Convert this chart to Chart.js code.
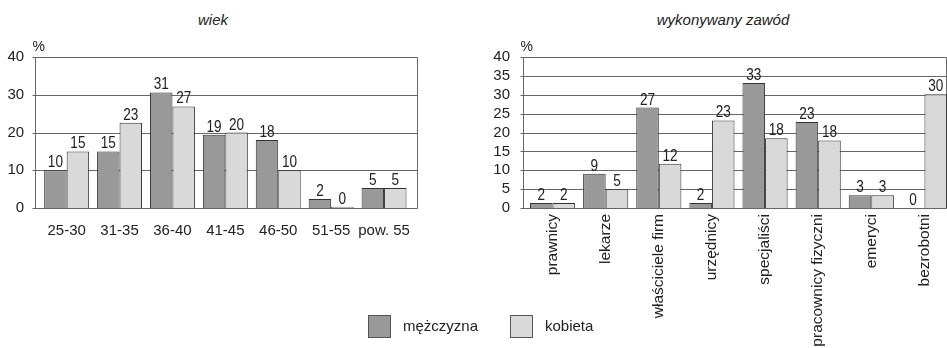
<!DOCTYPE html>
<html>
<head>
<meta charset="utf-8">
<script src="https://cdn.jsdelivr.net/npm/chart.js@4.4.0/dist/chart.umd.min.js"></script>
<style>
  body { margin: 0; background: #fff; width: 947px; height: 348px; overflow: hidden; position: relative;
         font-family: "Liberation Sans", Arial, sans-serif; color: #222; }
  .wrap { position: absolute; top: 0; height: 348px; }
  .title { position: absolute; top: 11px; font-style: italic; font-size: 15px; transform: translateX(-50%); white-space: nowrap; }
  .leg { position: absolute; top: 315px; width: 21px; height: 21px; border: 1px solid #555; }
  .legtxt { position: absolute; top: 317px; font-size: 15px; }
</style>
</head>
<body>
<div class="title" style="left:213px">wiek</div>
<div class="title" style="left:723px">wykonywany zawód</div>
<div class="wrap" style="left:0;width:426px"><canvas id="wiek"></canvas></div>
<div class="wrap" style="left:470px;width:481px"><canvas id="zawod"></canvas></div>
<div class="leg" style="left:368px;background:#999"></div>
<div class="legtxt" style="left:403px">mężczyzna</div>
<div class="leg" style="left:510px;background:#d9d9d9"></div>
<div class="legtxt" style="left:545px">kobieta</div>

<script>
// --- dane ---
var wiekKategorie = ['25-30', '31-35', '36-40', '41-45', '46-50', '51-55', 'pow. 55'];
var wiekMezczyzni = [10, 15, 30.6, 19.4, 18, 2.4, 5.3];
var wiekKobiety = [15, 22.6, 26.9, 20, 10, 0.3, 5.3];
var wiekEtykietyM = ['10', '15', '31', '19', '18', '2', '5'];
var wiekEtykietyK = ['15', '23', '27', '20', '10', '0', '5'];

var zawodKategorie = ['prawnicy', 'lekarze', 'właściciele firm', 'urzędnicy', 'specjaliści', 'pracownicy fizyczni', 'emeryci', 'bezrobotni'];
var zawodMezczyzni = [1.3, 9.1, 26.6, 1.3, 33.1, 22.8, 3.4, 0];
var zawodKobiety = [1.3, 5, 11.7, 23.2, 18.5, 17.9, 3.4, 30.1];
var zawodEtykietyM = ['2', '9', '27', '2', '33', '23', '3', '0'];
var zawodEtykietyK = ['2', '5', '12', '23', '18', '18', '3', '30'];

var FONT = '"Liberation Sans", Arial, sans-serif';

// ramka, linie siatki, "%" i liczby nad slupkami
var ramkaPlugin = {
    id: 'ramka',
    beforeDatasetsDraw: function(chart, args, opts){
        var ctx = chart.ctx, a = chart.chartArea, y = chart.scales.y;
        var l = Math.round(a.left - opts.dl) + 0.5, r = Math.round(a.right + opts.dr) - 0.5;
        ctx.save();
        ctx.strokeStyle = '#666';
        ctx.lineWidth = 1;
        y.ticks.forEach(function(t){
            var py = Math.round(y.getPixelForValue(t.value)) + 0.5;
            ctx.beginPath();
            ctx.moveTo(l - 3, py);
            ctx.lineTo(r, py);
            ctx.stroke();
        });
        ctx.beginPath();
        ctx.moveTo(l, Math.round(a.top) + 0.5);
        ctx.lineTo(l, Math.round(a.bottom) + 0.5);
        ctx.moveTo(r, Math.round(a.top) + 0.5);
        ctx.lineTo(r, Math.round(a.bottom) + 0.5);
        ctx.stroke();
        ctx.font = '14px ' + FONT;
        ctx.fillStyle = '#222';
        ctx.textBaseline = 'middle';
        ctx.fillText('%', l - 3, a.top - 10);
        ctx.restore();
    },
    afterDatasetsDraw: function(chart){
        var ctx = chart.ctx;
        ctx.save();
        ctx.font = '17px ' + FONT;
        ctx.fillStyle = '#222';
        ctx.textAlign = 'center';
        ctx.textBaseline = 'alphabetic';
        chart.data.datasets.forEach(function(ds, i){
            chart.getDatasetMeta(i).data.forEach(function(el, j){
                ctx.save();
                ctx.translate(el.x, el.y - 3);
                ctx.scale(0.8, 1);
                ctx.fillText(ds.etykiety[j], 0, 0);
                ctx.restore();
            });
        });
        ctx.restore();
    }
};

function buildBarChart(el, kategorie, m, k, em, ek, opcje){
    return new Chart(document.getElementById(el), {
        type: 'bar',
        data: {
            labels: kategorie,
            datasets: [{
                label: 'mężczyzna',
                data: m,
                etykiety: em,
                backgroundColor: '#999999',
                borderColor: '#333',
                borderWidth: 1,
                categoryPercentage: 0.85,
                barPercentage: 1
            }, {
                label: 'kobieta',
                data: k,
                etykiety: ek,
                backgroundColor: '#d9d9d9',
                borderColor: '#333',
                borderWidth: 1,
                categoryPercentage: 0.85,
                barPercentage: 1
            }]
        },
        options: {
            responsive: true,
            maintainAspectRatio: false,
            animation: false,
            layout: { padding: { top: 57, right: opcje.right, left: 0, bottom: 0 } },
            plugins: {
                legend: { display: false },
                tooltip: { enabled: false },
                ramka: { dl: opcje.dl, dr: opcje.dr }
            },
            scales: {
                x: {
                    grid: { display: false, drawTicks: false },
                    border: { display: false },
                    ticks: {
                        color: '#222',
                        font: { family: FONT, size: opcje.xSize },
                        padding: opcje.xPad,
                        autoSkip: false,
                        minRotation: opcje.rot,
                        maxRotation: opcje.rot
                    },
                    afterFit: function(s){ s.height = 140; }
                },
                y: {
                    min: 0,
                    max: 40,
                    ticks: { stepSize: opcje.step, autoSkip: false, color: '#222', font: { family: FONT, size: 15 }, padding: opcje.yPad },
                    grid: { display: false, drawTicks: false },
                    border: { display: false },
                    afterFit: function(s){ s.width = opcje.yWidth; }
                }
            }
        },
        plugins: [ramkaPlugin]
    });
}

buildBarChart('wiek', wiekKategorie, wiekMezczyzni, wiekKobiety, wiekEtykietyM, wiekEtykietyK,
    { right: 15.5, xSize: 15, xPad: 14, rot: 0, step: 10, yPad: 16, yWidth: 40.2, dl: 5.2, dr: 7.5 });
buildBarChart('zawod', zawodKategorie, zawodMezczyzni, zawodKobiety, zawodEtykietyM, zawodEtykietyK,
    { right: 0, xSize: 15.5, xPad: 6, rot: 90, step: 5, yPad: 16, yWidth: 56, dl: 3.3, dr: -4.5 });
</script>
</body>
</html>
